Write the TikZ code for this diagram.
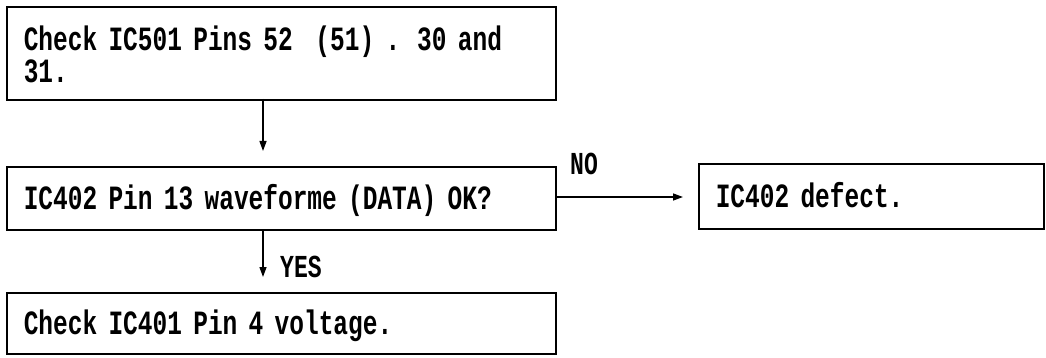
\documentclass[tikz,border=0pt]{standalone}
\usepackage{fontspec}
\newfontfamily\reffont[FakeStretch=0.72]{Liberation Mono Bold}
\usetikzlibrary{arrows.meta}
\begin{document}
\begin{tikzpicture}[x=1pt,y=1pt,
  box/.style={draw=black, line width=1.6pt, anchor=north west, inner xsep=17pt, inner ysep=0pt,
    align=left, font=\reffont\fontsize{34}{32}\selectfont, text height=23pt, text depth=0pt},
  conn/.style={line width=1.3pt, -{Triangle[length=10pt,width=7pt]}, shorten >=15pt},
  lbl/.style={font=\reffont\fontsize{32}{32}\selectfont, inner sep=0pt, anchor=base west}]
\useasboundingbox (0,0) rectangle (1046,-358);
\node[box, minimum width=549pt, minimum height=93pt, text width=515pt,
  text height=27pt, text depth=32pt] (b1) at (6,-6)
  {Check IC501 Pins 52\ \ (51) . 30 and\\31.};
\node[box, minimum width=549pt, minimum height=63pt, text width=515pt] (b2) at (6,-166)
  {IC402 Pin 13 waveforme (DATA) OK?};
\node[box, minimum width=345pt, minimum height=65pt, text width=311pt] (b3) at (698,-163)
  {IC402 defect.};
\node[box, minimum width=549pt, minimum height=61pt, text width=515pt] (b4) at (6,-292)
  {Check IC401 Pin 4 voltage.};
\coordinate (a1) at (263,-99);
\coordinate (a2) at (263,-229);
\draw[conn] (a1) -- (a1 |- b2.north);
\draw[conn] (a2) -- (a2 |- b4.north);
\draw[conn] (b2.east |- 0,-197) coordinate (c1) -- (b3.west |- c1);
\node[lbl] (no) at (570,-175) {NO};
\node[lbl] (yes) at (280,-277) {YES};
\end{tikzpicture}
\end{document}
